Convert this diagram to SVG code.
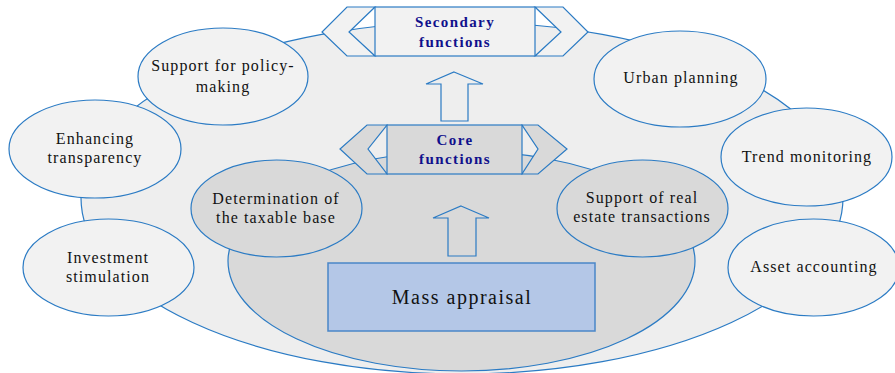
<svg xmlns="http://www.w3.org/2000/svg" width="895" height="373" viewBox="0 0 895 373">
<style>
.ln{stroke:#2b7bc4;stroke-width:1.2}
.sat{fill:#f2f2f2}
.dk{fill:#d9d9d9}
.t{font-size:16px;fill:#111111;text-anchor:middle;letter-spacing:1.1px}
.b{font-size:15px;font-weight:bold;fill:#10108c;text-anchor:middle;letter-spacing:1.4px}
.m{font-size:20px;fill:#111111;text-anchor:middle;letter-spacing:1.5px}
</style>
<rect width="895" height="373" fill="#ffffff"/>
<g font-family="'Liberation Serif', serif">
<g id="outer-area"><ellipse cx="462" cy="198" rx="381" ry="176" fill="#eeeeee" class="ln"/></g>
<g id="policy"><ellipse cx="223" cy="76.5" rx="85" ry="48.5" class="sat ln"/><text class="t" x="223" y="71">Support for policy-</text><text class="t" x="223" y="92">making</text></g>
<g id="transparency"><ellipse cx="95" cy="149" rx="86" ry="49" class="sat ln"/><text class="t" x="95" y="144">Enhancing</text><text class="t" x="95" y="163">transparency</text></g>
<g id="investment"><ellipse cx="108.5" cy="267.5" rx="85.5" ry="48.5" class="sat ln"/><text class="t" x="108" y="263">Investment</text><text class="t" x="108" y="282">stimulation</text></g>
<g id="urban"><ellipse cx="680" cy="79" rx="86" ry="48" class="sat ln"/><text class="t" x="681" y="83">Urban planning</text></g>
<g id="trend"><ellipse cx="806.5" cy="157" rx="85.5" ry="49" class="sat ln"/><text class="t" x="807" y="162">Trend monitoring</text></g>
<g id="asset"><ellipse cx="813.5" cy="267.5" rx="85.5" ry="48.5" class="sat ln"/><text class="t" x="814" y="272">Asset accounting</text></g>
<g id="inner-area"><ellipse cx="461.5" cy="261" rx="233.5" ry="110" class="dk ln"/></g>
<g id="taxable"><ellipse cx="276.5" cy="208.5" rx="85.5" ry="48.5" class="dk ln"/><text class="t" x="276" y="204">Determination of</text><text class="t" x="276" y="223">the taxable base</text></g>
<g id="realestate"><ellipse cx="642.5" cy="208.5" rx="85.5" ry="48.5" class="dk ln"/><text class="t" x="642" y="203">Support of real</text><text class="t" x="642" y="222">estate transactions</text></g>
<g id="secondary">
<polygon points="375,7 347,7 322,32 347,56 375,56 349,32" class="sat ln"/>
<polygon points="535,7 563,7 588,32 563,56 535,56 561,32" class="sat ln"/>
<rect x="375" y="7" width="160" height="49" class="sat ln"/>
<text class="b" x="455" y="27">Secondary</text><text class="b" x="455" y="47">functions</text>
</g>
<g id="core">
<polygon points="387,125 367,125 340,149 367,174 387,174 368,149" class="dk ln"/>
<polygon points="522,125 538,125 567,149 538,174 522,174 538,149" class="dk ln"/>
<rect x="387" y="125" width="135" height="49" class="dk ln"/>
<text class="b" x="455" y="145">Core</text><text class="b" x="455" y="164">functions</text>
</g>
<g id="connectors">
<polygon points="454,72 483,84 468,84 468,121 441,121 441,84 426,84" fill="#eeeeee" class="ln"/>
<polygon points="461,206 489,218 476,218 476,256 448,256 448,218 433,218" fill="#d9d9d9" class="ln"/>
</g>
<g id="mass"><rect x="328" y="263" width="267" height="68" fill="#b4c7e7" stroke="#4a86c8" stroke-width="1.5"/><text class="m" x="462" y="304">Mass appraisal</text></g>
</g>
</svg>
